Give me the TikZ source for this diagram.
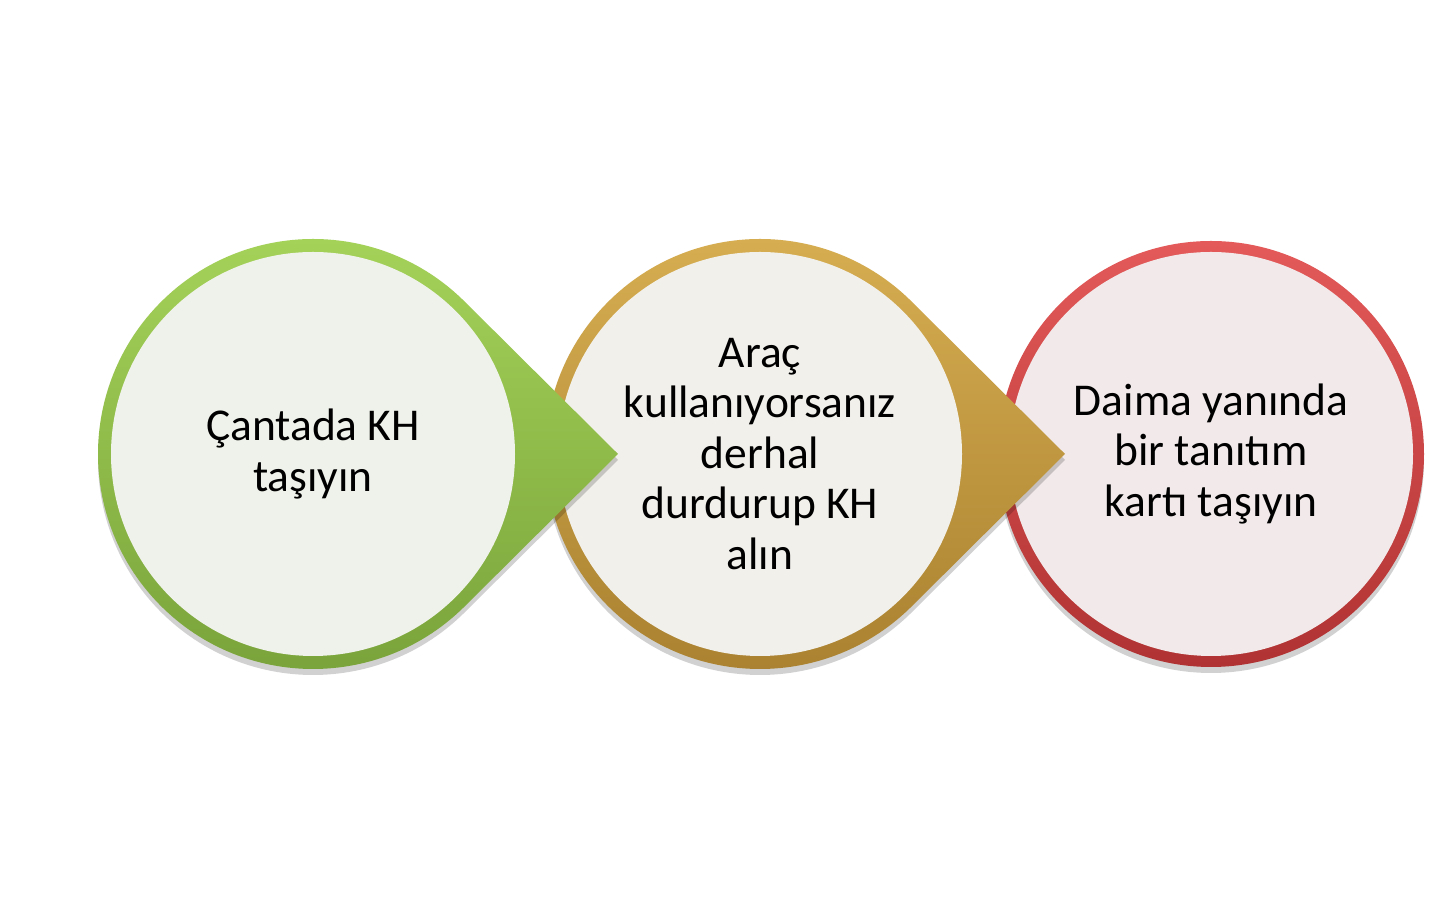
\documentclass[tikz,border=0pt]{standalone}
\usepackage{fontspec}
\setmainfont{Carlito}
\usetikzlibrary{calc,shadows}
\definecolor{gTop}{HTML}{A6D45A}
\definecolor{gBot}{HTML}{78A23A}
\definecolor{gIn}{HTML}{EFF2EA}
\definecolor{oTop}{HTML}{D8AF52}
\definecolor{oBot}{HTML}{A8802F}
\definecolor{oIn}{HTML}{F2F0EB}
\definecolor{rTop}{HTML}{E45A5A}
\definecolor{rBot}{HTML}{B03232}
\definecolor{rIn}{HTML}{F2EAEA}
\tikzset{
  x=1pt,y=1pt,
  ringshape/.style={drop shadow={shadow xshift=0pt,shadow yshift=-6pt,opacity=0.18,fill=black}},
  disc/.style={circle,minimum size=404pt,inner sep=0pt,align=center,
    font=\fontsize{45.5}{50.5}\selectfont,text=black},
}
\begin{document}
\begin{tikzpicture}
\useasboundingbox (0,0) rectangle (1433,909);
\fill[white] (0,0) rectangle (1433,909);
% circle 3 (red), plain
\coordinate (C3) at (1211,455);
\shade[ringshape,top color=rTop,bottom color=rBot] (C3) circle[radius=213];
\node[disc,fill=rIn] (t3) at (C3) {Daima yanında\\bir tanıtım\\kartı taşıyın};
% circle 2 (gold) with pointer
\coordinate (C2) at (760,455);
\coordinate (T2) at (1065,455);
\shade[ringshape,top color=oTop,bottom color=oBot]
  ($(C2)+(45:215)$) -- (T2) -- ($(C2)+(-45:215)$)
  arc[start angle=-45,end angle=-315,radius=215] -- cycle;
\node[disc,fill=oIn] (t2) at (C2) {Araç\\kullanıyorsanız\\derhal\\durdurup KH\\alın};
% circle 1 (green) with pointer
\coordinate (C1) at (313,455);
\coordinate (T1) at (618,455);
\shade[ringshape,top color=gTop,bottom color=gBot]
  ($(C1)+(45:215)$) -- (T1) -- ($(C1)+(-45:215)$)
  arc[start angle=-45,end angle=-315,radius=215] -- cycle;
\node[disc,fill=gIn] (t1) at (C1) {Çantada KH\\taşıyın};
\end{tikzpicture}
\end{document}
